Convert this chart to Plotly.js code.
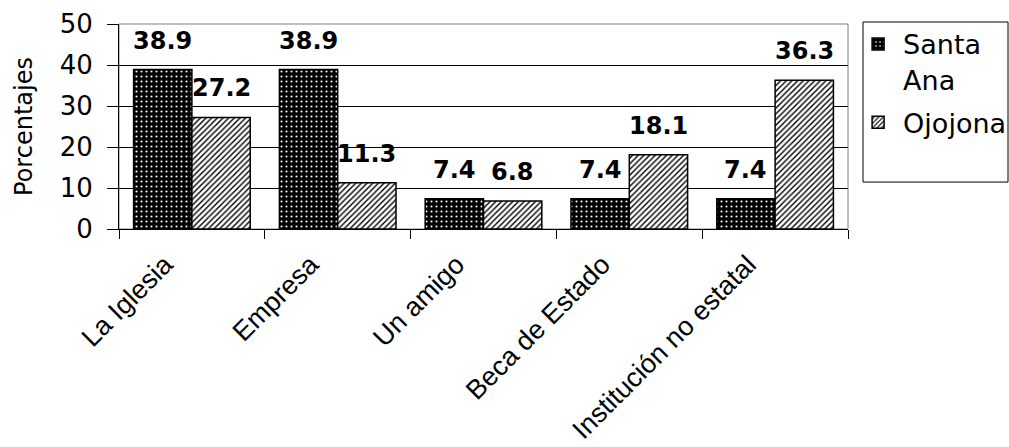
<!DOCTYPE html>
<html>
<head>
<meta charset="utf-8">
<script src="https://cdn.plot.ly/plotly-3.0.1.min.js"></script>
<style>
html,body{margin:0;padding:0;background:#fff;}
#chart{width:1009px;height:447px;}
</style>
</head>
<body>
<div id="chart"></div>
<script>
const categories = ['La Iglesia', 'Empresa', 'Un amigo', 'Beca de Estado', 'Institución no estatal'];
const santaAna = [38.9, 38.9, 7.4, 7.4, 7.4];
const ojojona = [27.2, 11.3, 6.8, 18.1, 36.3];
const seriesNames = ['Santa<br>Ana', 'Ojojona'];
const yTickVals = [0, 10, 20, 30, 40, 50];

const FONT = 'DejaVu Sans, Arial, sans-serif';
const FONT_X = 'Liberation Sans, Arial, sans-serif';
const bargap = 0.2;
const barW = (1 - bargap) / 2;

const traces = [
  {
    type: 'bar', name: seriesNames[0], x: categories, y: santaAna, legendgroup: 'a',
    marker: {
      color: '#000',
      line: {color: '#000', width: 1.5},
      pattern: {shape: '.', bgcolor: '#000', fgcolor: '#fff', size: 5, solidity: 0.14, fillmode: 'replace'}
    },
    hoverinfo: 'skip'
  },
  {
    type: 'bar', name: seriesNames[1], x: categories, y: ojojona, legendgroup: 'b',
    marker: {
      color: '#fff',
      line: {color: '#000', width: 1.5},
      pattern: {shape: '/', bgcolor: '#fff', fgcolor: '#000', size: 4, solidity: 0.35, fillmode: 'replace'}
    },
    hoverinfo: 'skip'
  }
];

const annotations = [];
[santaAna, ojojona].forEach((vals, s) => {
  vals.forEach((v, i) => {
    annotations.push({
      x: i + (s === 0 ? -barW / 2 : barW / 2), y: v, xref: 'x', yref: 'y',
      text: v.toFixed(1), showarrow: false, yanchor: 'bottom', yshift: 13,
      font: {family: FONT, size: 24, color: '#000', weight: 'bold'}
    });
  });
});

const layout = {
  width: 1009, height: 447,
  margin: {l: 119, r: 161, t: 24, b: 218, autoexpand: false},
  paper_bgcolor: '#fff', plot_bgcolor: '#fff',
  barmode: 'group', bargap: bargap, bargroupgap: 0,
  font: {family: FONT, color: '#000', size: 24},
  showlegend: true,
  legend: {
    x: 1.007, xanchor: 'left', y: 1.02, yanchor: 'top',
    font: {family: FONT, size: 27, color: '#000'},
    bgcolor: 'rgba(0,0,0,0)', borderwidth: 0, valign: 'top',
    itemwidth: 40, tracegroupgap: 5, traceorder: 'grouped'
  },
  xaxis: {
    type: 'category', tickson: 'boundaries', ticks: 'outside', ticklen: 9, tickcolor: '#000',
    showline: true, linecolor: '#000', linewidth: 1, tickangle: -45,
    ticklabelshift: -27, ticklabelstandoff: 8,
    tickfont: {family: FONT_X, size: 27, color: '#000'}, showgrid: false, automargin: false
  },
  yaxis: {
    range: [0, 50], tickvals: yTickVals, ticks: 'outside', ticklen: 11, tickcolor: '#000',
    showline: true, linecolor: '#000', linewidth: 1, showgrid: true, gridcolor: '#000', gridwidth: 1,
    ticklabelstandoff: 9,
    zeroline: false, tickfont: {family: FONT, size: 26, color: '#000'}, automargin: false,
    title: {text: 'Porcentajes', font: {family: FONT, size: 24, color: '#000'}, standoff: 20}
  },
  shapes: [
    {type: 'rect', xref: 'paper', yref: 'paper', x0: 0, x1: 1, y0: 0, y1: 1,
     line: {color: '#808080', width: 1}, fillcolor: 'rgba(0,0,0,0)', layer: 'below'},
    {type: 'rect', xref: 'paper', yref: 'paper', x0: 1.0206, x1: 1.2195, y0: 0.229, y1: 1.0098,
     line: {color: '#000', width: 1}, fillcolor: 'rgba(0,0,0,0)', layer: 'above'}
  ],
  annotations: annotations
};

Plotly.newPlot('chart', traces, layout, {displayModeBar: false, staticPlot: true});
</script>
</body>
</html>
